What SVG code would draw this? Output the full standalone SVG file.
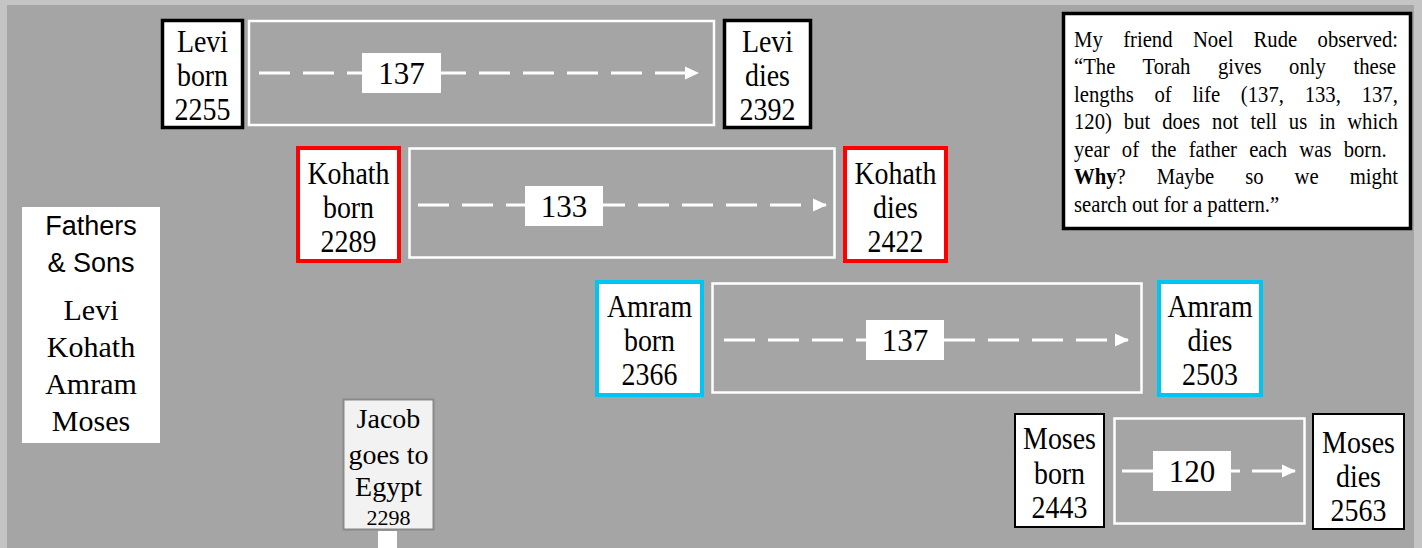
<svg xmlns="http://www.w3.org/2000/svg" width="1422" height="548" viewBox="0 0 1422 548">
<defs>
<marker id="ah" markerUnits="userSpaceOnUse" markerWidth="15" markerHeight="15" refX="13" refY="7.5" orient="auto"><path d="M0,1 L14,7.5 L0,14 z" fill="#fff"/></marker>
<style>
.t{font-family:"Liberation Serif","Times New Roman",serif;font-size:28px;fill:#000;text-anchor:middle}
.tc{font-family:"Liberation Serif","Times New Roman",serif;font-size:31px;fill:#000;text-anchor:middle}
.lbl{font-family:"Liberation Serif","Times New Roman",serif;font-size:31px;fill:#000;text-anchor:middle}
.nt{font-family:"Liberation Serif","Times New Roman",serif;font-size:23px;fill:#000}
.box{fill:#fff}
.blk{stroke:#000;stroke-width:3.5}
.red{stroke:#ff0000;stroke-width:4}
.cyan{stroke:#00c4f2;stroke-width:4}
.span{fill:none;stroke:#fff;stroke-width:2.5}
.dash{stroke:#fff;stroke-width:3;fill:none;stroke-dasharray:31 13}
.solid{stroke:#fff;stroke-width:3;fill:none}
.lb{fill:#fff}
</style>
</defs>
<rect x="0" y="0" width="1422" height="548" fill="#c4c4c4"/>
<rect x="7" y="5" width="1407" height="543" fill="#a5a5a5"/>

<g id="connectors">
<rect class="span" x="249" y="21" width="465" height="104"/>
<line class="dash" x1="259" y1="73" x2="698" y2="73" marker-end="url(#ah)"/>
<rect class="span" x="409.5" y="148.5" width="425" height="109"/>
<line class="dash" x1="418" y1="205" x2="826" y2="205" marker-end="url(#ah)"/>
<rect class="span" x="712.5" y="283.5" width="429" height="109"/>
<line class="dash" x1="724" y1="340" x2="1128" y2="340" marker-end="url(#ah)"/>
<rect class="span" x="1114.5" y="418.5" width="190" height="105"/>
<line class="solid" x1="1122" y1="471" x2="1240" y2="471"/>
<line class="solid" x1="1252" y1="471" x2="1295" y2="471" marker-end="url(#ah)"/>
</g>

<g id="label-137a"><rect class="lb" x="362" y="53" width="79" height="40"/><text class="lbl" x="401.5" y="84">137</text></g>
<g id="label-133"><rect class="lb" x="525" y="186" width="78" height="40"/><text class="lbl" x="564" y="217">133</text></g>
<g id="label-137b"><rect class="lb" x="866" y="320" width="78" height="40"/><text class="lbl" x="905" y="351">137</text></g>
<g id="label-120"><rect class="lb" x="1153" y="451" width="78" height="40"/><text class="lbl" x="1192" y="482">120</text></g>

<g id="levi-born"><rect class="box blk" x="162.5" y="20.5" width="80" height="107"/>
<g transform="translate(202.5 0) scale(0.9 1)"><text class="tc" x="0" y="52">Levi</text><text class="tc" x="0" y="86">born</text><text class="tc" x="0" y="120">2255</text></g></g>
<g id="levi-dies"><rect class="box blk" x="724.5" y="20.5" width="86" height="107"/>
<g transform="translate(767.5 0) scale(0.9 1)"><text class="tc" x="0" y="52">Levi</text><text class="tc" x="0" y="86">dies</text><text class="tc" x="0" y="120">2392</text></g></g>

<g id="kohath-born"><rect class="box red" x="298" y="148" width="101" height="113"/>
<g transform="translate(348.5 0) scale(0.9 1)"><text class="tc" x="0" y="184">Kohath</text><text class="tc" x="0" y="218">born</text><text class="tc" x="0" y="252">2289</text></g></g>
<g id="kohath-dies"><rect class="box red" x="845" y="148" width="101" height="113"/>
<g transform="translate(895.5 0) scale(0.9 1)"><text class="tc" x="0" y="184">Kohath</text><text class="tc" x="0" y="218">dies</text><text class="tc" x="0" y="252">2422</text></g></g>

<g id="amram-born"><rect class="box cyan" x="597" y="282" width="105" height="113"/>
<g transform="translate(649.5 0) scale(0.9 1)"><text class="tc" x="0" y="317">Amram</text><text class="tc" x="0" y="351">born</text><text class="tc" x="0" y="385">2366</text></g></g>
<g id="amram-dies"><rect class="box cyan" x="1159" y="282" width="102" height="113"/>
<g transform="translate(1210 0) scale(0.9 1)"><text class="tc" x="0" y="317">Amram</text><text class="tc" x="0" y="351">dies</text><text class="tc" x="0" y="385">2503</text></g></g>

<g id="moses-born"><rect class="box" x="1015" y="414" width="89" height="113" stroke="#000" stroke-width="2"/>
<g transform="translate(1059.5 0) scale(0.9 1)"><text class="tc" x="0" y="449">Moses</text><text class="tc" x="0" y="484">born</text><text class="tc" x="0" y="518">2443</text></g></g>
<g id="moses-dies"><rect class="box" x="1313" y="414" width="91" height="115" stroke="#000" stroke-width="2"/>
<g transform="translate(1358.5 0) scale(0.9 1)"><text class="tc" x="0" y="453">Moses</text><text class="tc" x="0" y="487">dies</text><text class="tc" x="0" y="521">2563</text></g></g>

<g id="legend"><rect class="box" x="22" y="207" width="138" height="236"/>
<text x="91" y="235" style="font-family:'Liberation Sans Narrow','Liberation Sans',Arial,sans-serif;font-size:27px;text-anchor:middle">Fathers</text>
<text x="91" y="272" style="font-family:'Liberation Sans Narrow','Liberation Sans',Arial,sans-serif;font-size:27px;text-anchor:middle">&amp; Sons</text>
<text class="t" x="91" y="320" style="font-size:30px">Levi</text>
<text class="t" x="91" y="357" style="font-size:30px">Kohath</text>
<text class="t" x="91" y="394" style="font-size:30px">Amram</text>
<text class="t" x="91" y="431" style="font-size:30px">Moses</text></g>

<g id="jacob"><rect x="343.5" y="399.5" width="90" height="130" fill="#f2f2f2" stroke="#8a8a8a" stroke-width="2"/>
<text class="t" x="388.5" y="428">Jacob</text><text class="t" x="388.5" y="464">goes to</text><text class="t" x="388.5" y="496">Egypt</text>
<text class="t" x="388.5" y="525" style="font-size:22px">2298</text>
<rect x="378" y="531" width="19" height="17" fill="#fff"/></g>

<g id="note"><rect class="box" x="1063.5" y="13.5" width="347" height="215" stroke="#000" stroke-width="3.5"/>
<g transform="translate(1074 0) scale(0.9 1)">
<text class="nt" x="0" y="47" word-spacing="16.9">My friend Noel Rude observed:</text>
<text class="nt" x="0" y="74.5" word-spacing="24.8">“The Torah gives only these</text>
<text class="nt" x="0" y="102" word-spacing="17.3">lengths of life (137, 133, 137,</text>
<text class="nt" x="0" y="129.5" word-spacing="7.5">120) but does not tell us in which</text>
<text class="nt" x="0" y="157" word-spacing="7.8">year of the father each was born.</text>
<text class="nt" x="0" y="184.5" word-spacing="28.7"><tspan font-weight="bold">Why</tspan>? Maybe so we might</text>
<text class="nt" x="0" y="212">search out for a pattern.”</text>
</g></g>
</svg>
